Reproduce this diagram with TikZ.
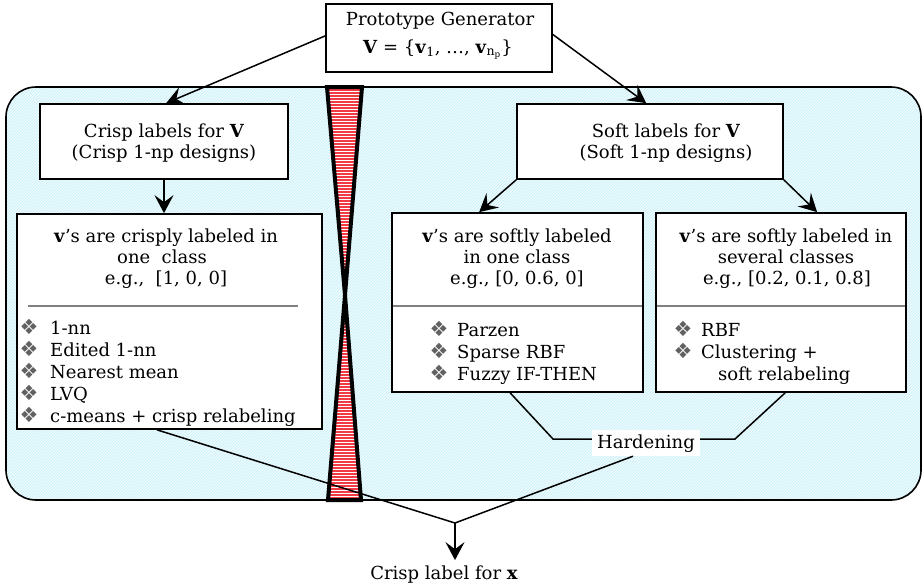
\documentclass[tikz,border=0pt]{standalone}
\usepackage{fontspec}
\setmainfont{DejaVu Serif}
\newfontfamily\symfont{DejaVu Sans}
\usetikzlibrary{arrows.meta,patterns,calc}
\definecolor{bgcyan}{HTML}{EEFBFD}
\definecolor{hatch}{HTML}{C4EEF6}
\definecolor{hgred}{HTML}{F23A44}
\begin{document}
\begin{tikzpicture}[x=1pt,y=-1pt,
  box/.style={draw=black, line width=1.7pt, fill=white, inner sep=0pt},
  txt/.style={font=\fontsize{18}{21}\selectfont, inner sep=0pt, anchor=base},
  item/.style={txt, anchor=base west},
  bul/.style={font=\symfont\fontsize{21}{21}\selectfont, text=black!62, inner sep=0pt, anchor=base},
  sep/.style={draw=black!50, line width=1.4pt},
  conn/.style={line width=1.5pt},
  arr/.style={conn, -{Stealth[length=18pt,width=19pt,inset=7pt]}},
]
\useasboundingbox (0,0) rectangle (923,587);

% background panel
\fill[bgcyan, rounded corners=30pt] (6,87) rectangle (921,500);
\fill[pattern=north east lines, pattern color=hatch, rounded corners=30pt] (6,87) rectangle (921,500);
\draw[line width=1.6pt, rounded corners=30pt] (6,87) rectangle (921,500);

% hourglass
\fill[hgred] (327,87) -- (362,87) -- (345,295) -- (361,500) -- (328,500) -- (345,295) -- cycle;
\fill[pattern=horizontal lines, pattern color=white] (327,87) -- (362,87) -- (345,295) -- (361,500) -- (328,500) -- (345,295) -- cycle;
\draw[line width=4pt, line join=miter] (327,87) -- (362,87) -- (345,295) -- (361,500) -- (328,500) -- (345,295) -- cycle;

% boxes
\node[box, minimum width=226pt, minimum height=68pt] (top) at (439,38) {};
\node[box, minimum width=248pt, minimum height=75pt] (crisp) at (164,141.5) {};
\node[box, minimum width=266pt, minimum height=75pt] (soft) at (650,141.5) {};
\node[box, minimum width=305pt, minimum height=215pt] (lbox) at (169.5,321.5) {};
\node[box, minimum width=251pt, minimum height=179pt] (mbox) at (517.5,302.5) {};
\node[box, minimum width=250pt, minimum height=179pt] (rbox) at (781,302.5) {};

% top text
\node[txt] (toptxt1) at (440,25) {Prototype Generator};
\node[txt] (toptxt2) at (438,53) {\textbf{V} = \{\textbf{v}\textsubscript{1}, …, \textbf{v}\textsubscript{n\textsubscript{p}}\}};

\node[txt] (crisptxt1) at (164,137) {Crisp labels for \textbf{V}};
\node[txt] (crisptxt2) at (164,158) {(Crisp 1-np designs)};
\node[txt] (softtxt1) at (666,137) {Soft labels for \textbf{V}};
\node[txt] (softtxt2) at (666,158) {(Soft 1-np designs)};

% left box
\node[txt] (l1) at (166,242) {\textbf{v}’s are crisply labeled in};
\node[txt] (l2) at (162,263) {one\ \ class};
\node[txt] (l3) at (166,284) {e.g.,\ \ [1, 0, 0]};
\draw[sep] (28,306) -- (298,306);
\foreach \t/\y [count=\i] in {1-nn/334, Edited 1-nn/356, Nearest mean/378, LVQ/400, c-means + crisp relabeling/422}{
  \node[bul] (lb\i) at (29,\y) {❖};
  \node[item] (li\i) at (50,\y) {\t};
}

% middle box
\node[txt] (m1) at (517,242) {\textbf{v}’s are softly labeled};
\node[txt] (m2) at (517,263) {in one class};
\node[txt] (m3) at (517,284) {e.g., [0, 0.6, 0]};
\draw[sep] (393,306) -- (642,306);
\foreach \t/\y [count=\i] in {Parzen/336, Sparse RBF/358, Fuzzy IF-THEN/380}{
  \node[bul] (mb\i) at (439,\y) {❖};
  \node[item] (mi\i) at (457,\y) {\t};
}

% right box
\node[txt] (r1) at (786,242) {\textbf{v}’s are softly labeled in};
\node[txt] (r2) at (786,263) {several classes};
\node[txt] (r3) at (787,284) {e.g., [0.2, 0.1, 0.8]};
\draw[sep] (657,306) -- (905,306);
\node[bul] (rb1) at (683,336) {❖};
\node[item] (ri1) at (701,336) {RBF};
\node[bul] (rb2) at (683,358) {❖};
\node[item] (ri2) at (701,358) {Clustering +};
\node[item] (ri3) at (718,380) {soft relabeling};

% arrows
\draw[arr] ($(top.north west)!0.47!(top.south west)$) -- ($(crisp.north west)+(127,0)$);
\draw[arr] ($(top.north east)!0.45!(top.south east)$) -- ($(soft.north west)+(130,0)$);
\draw[arr] (crisp.south) -- (crisp.south |- lbox.north);
\draw[arr] (soft.south west) -- ($(mbox.north west)+(88,0)$);
\draw[arr] (soft.south east) -- ($(rbox.north west)+(162,0)$);

% hardening
\node[txt, fill=white, inner xsep=5pt, inner ysep=4pt] (hard) at (646,448) {Hardening};
\coordinate (hL) at (553,439);
\coordinate (hR) at (735,439);
\draw[conn] ($(mbox.south west)+(119,0)$) -- (hL) -- (hard.west |- hL);
\draw[conn] ($(rbox.south west)+(130,0)$) -- (hR) -- (hard.east |- hR);

% output
\coordinate (j) at (455,523);
\node[txt] (out) at (444,579) {Crisp label for \textbf{x}};
\draw[conn] ($(lbox.south)+(-12.5,0)$) -- (j);
\draw[conn] ($(hard.south)+(-13,0)$) -- (j);
\draw[arr] (j) -- ($(j |- out.north)+(0,-5)$);
\end{tikzpicture}
\end{document}
